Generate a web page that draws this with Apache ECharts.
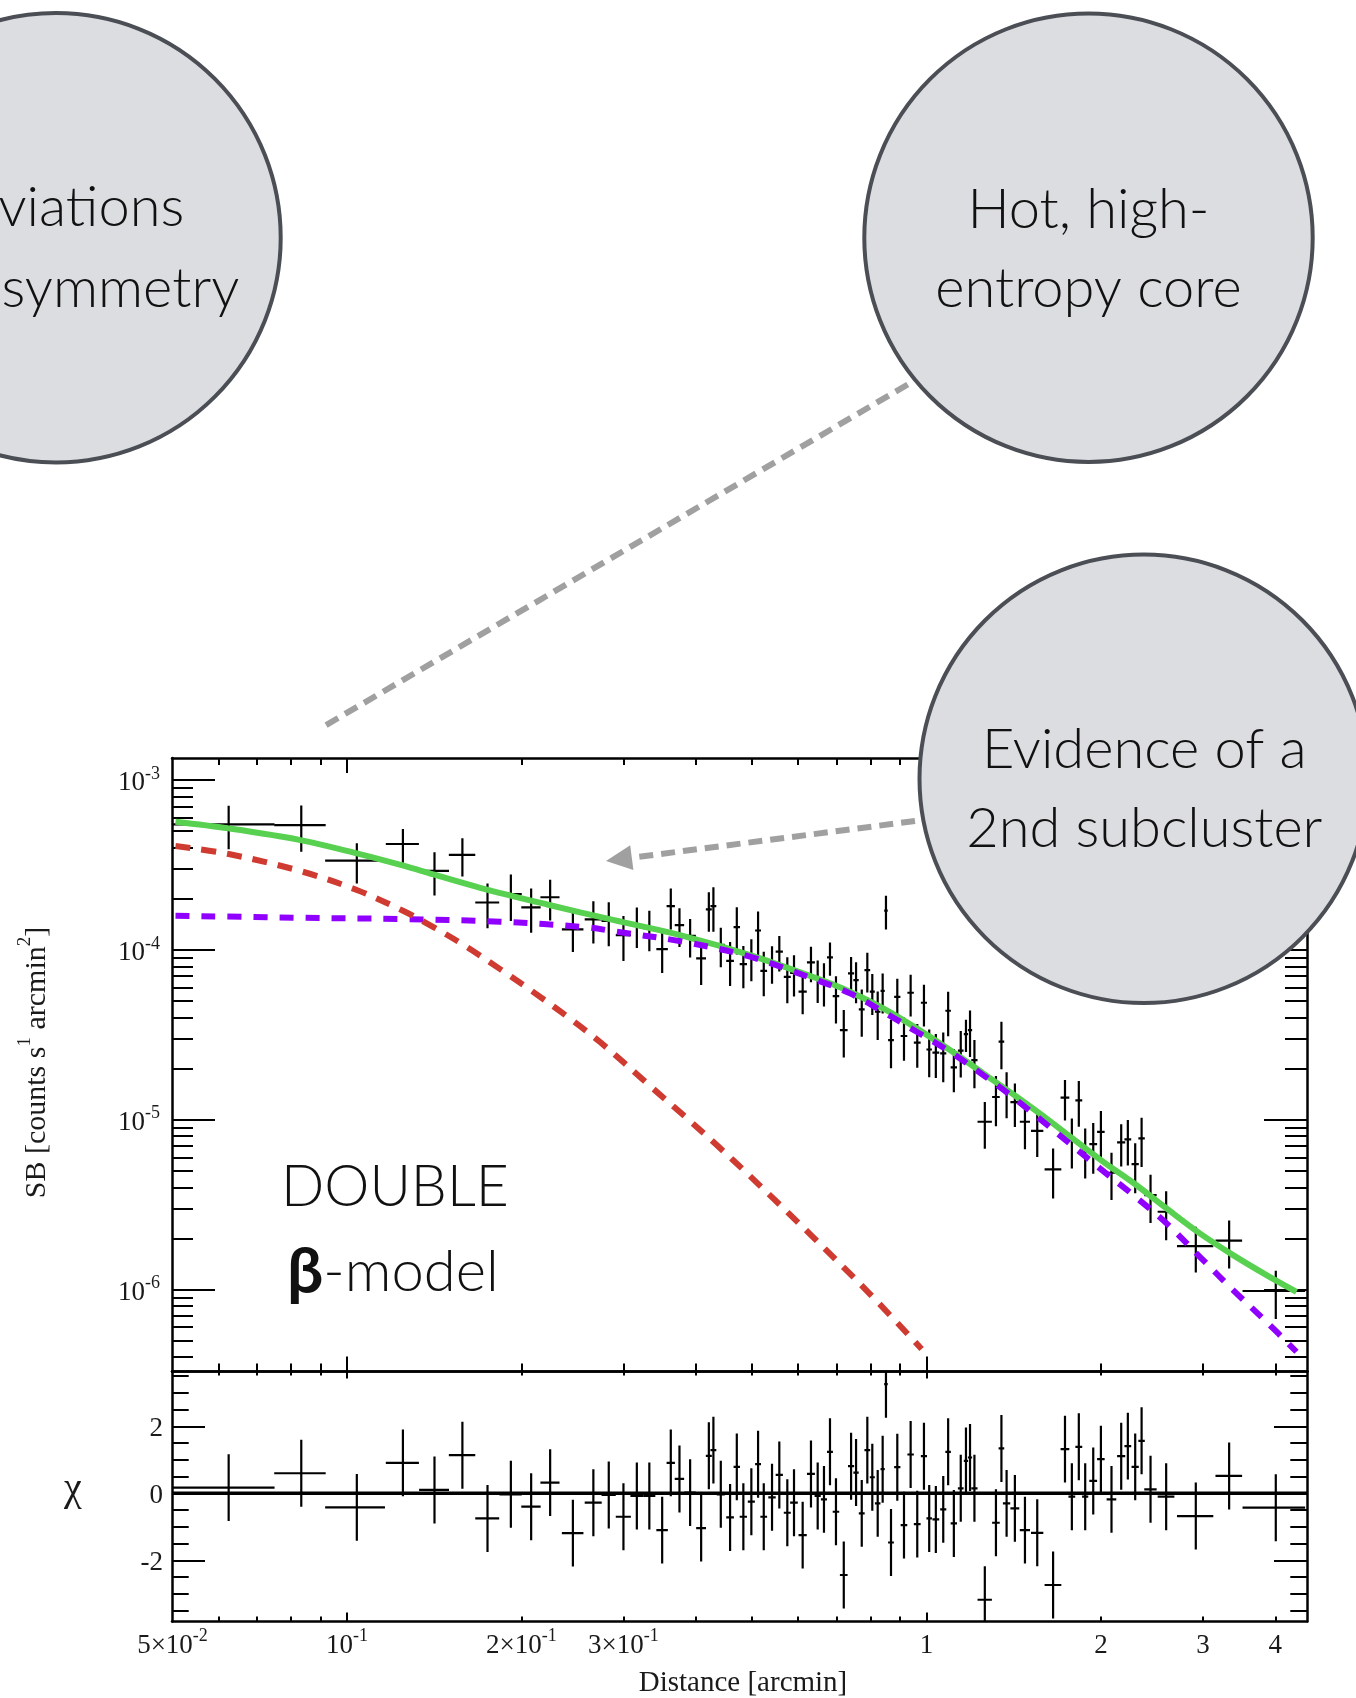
<!DOCTYPE html>
<html>
<head>
<meta charset="utf-8">
<script src="https://cdn.jsdelivr.net/npm/echarts@6/dist/echarts.min.js"></script>
<style>
  html, body { margin: 0; padding: 0; background: #ffffff; }
  #chart { width: 1356px; height: 1698px; }
</style>
</head>
<body>
<div id="chart"></div>
<script>
// ---- Surface-brightness profile: radius bin centre, half width, SB, 1-sigma error ----
const sbX = [0.0625,0.0834,0.1040,0.1249,0.1416,0.1582,0.1748,0.1918,0.2079,0.2242,
  0.2454,0.2662,0.2830,0.3000,0.3164,0.3325,0.3499,0.3621,0.3748,0.3910,
  0.4085,0.4212,0.4289,0.4417,0.4583,0.4707,0.4831,0.4987,0.5122,0.5239,
  0.5414,0.5573,0.5753,0.5908,0.6115,0.6320,0.6491,0.6655,0.6816,0.6980,
  0.7200,0.7412,0.7560,0.7733,0.7906,0.8064,0.8239,0.8403,0.8514,0.8686,
  0.8906,0.9146,0.9391,0.9641,0.9901,1.011,1.038,1.069,1.090,1.115,
  1.146,1.170,1.189,1.210,1.261,1.318,1.347,1.375,1.421,1.479,
  1.553,1.654,1.734,1.782,1.832,1.879,1.940,2.000,2.086,2.168,
  2.226,2.292,2.351,2.436,2.592,2.916,3.329,4.007];
const sbXErr = [0.0125,0.0085,0.0123,0.0082,0.0084,0.0083,0.0083,0.0085,0.0080,0.0085,
  0.0105,0.009,0.008,0.009,0.008,0.008,0.008,0.006,0.007,0.009,
  0.008,0.005,0.005,0.007,0.007,0.006,0.007,0.007,0.006,0.007,
  0.008,0.008,0.008,0.009,0.010,0.010,0.008,0.008,0.008,0.009,
  0.011,0.009,0.008,0.009,0.009,0.008,0.009,0.007,0.006,0.010,
  0.011,0.012,0.012,0.013,0.012,0.011,0.014,0.013,0.012,0.014,
  0.013,0.010,0.010,0.015,0.036,0.020,0.015,0.020,0.025,0.030,
  0.038,0.055,0.030,0.024,0.025,0.023,0.030,0.030,0.040,0.035,
  0.030,0.033,0.030,0.060,0.086,0.21,0.176,0.496];
const sbY = [5.48e-4,5.43e-4,3.35e-4,4.20e-4,2.92e-4,3.62e-4,1.90e-4,2.13e-4,1.78e-4,2.04e-4,
  1.32e-4,1.51e-4,1.48e-4,1.22e-4,1.40e-4,1.34e-4,1.01e-4,1.81e-4,1.40e-4,1.21e-4,
  8.91e-5,1.73e-4,1.81e-4,1.07e-4,8.62e-5,1.36e-4,8.25e-5,9.03e-5,1.30e-4,7.53e-5,
  8.41e-5,9.75e-5,6.94e-5,7.31e-5,5.67e-5,8.44e-5,6.76e-5,6.49e-5,9.03e-5,5.34e-5,
  3.37e-5,7.27e-5,6.64e-5,4.46e-5,7.60e-5,5.67e-5,4.32e-5,5.74e-5,1.70e-4,2.94e-5,
  5.29e-5,3.11e-5,5.59e-5,2.84e-5,4.88e-5,2.59e-5,2.48e-5,2.46e-5,4.38e-5,2.03e-5,
  2.55e-5,3.19e-5,3.37e-5,2.24e-5,9.72e-6,1.36e-5,2.88e-5,1.46e-5,1.27e-5,9.72e-6,
  8.60e-6,5.10e-6,1.35e-5,7.66e-6,1.30e-5,6.69e-6,7.18e-6,8.48e-6,4.87e-6,7.35e-6,
  7.66e-6,5.48e-6,7.76e-6,3.60e-6,2.87e-6,1.80e-6,1.94e-6,9.8e-7];
const sbYErr = [1.57e-4,1.65e-4,8.9e-5,9.4e-5,8.3e-5,9.2e-5,5.6e-5,6.5e-5,5.2e-5,5.5e-5,
  3.5e-5,4.2e-5,4.3e-5,3.6e-5,3.75e-5,3.6e-5,2.8e-5,4.9e-5,3.6e-5,3.1e-5,
  2.7e-5,4.5e-5,5.3e-5,2.8e-5,2.5e-5,4.2e-5,2.3e-5,2.5e-5,3.8e-5,2.2e-5,
  2.1e-5,2.3e-5,2.1e-5,2.0e-5,1.5e-5,2.0e-5,1.9e-5,1.85e-5,2.0e-5,1.66e-5,
  1.05e-5,1.8e-5,1.8e-5,1.38e-5,2.0e-5,1.54e-5,1.37e-5,1.52e-5,3.8e-5,9.3e-6,
  1.46e-5,8.9e-6,1.54e-5,8.2e-6,1.34e-5,8.1e-6,7.2e-6,8.0e-6,1.28e-5,5.8e-6,
  7.8e-6,6.9e-6,1.03e-5,7.1e-6,2.97e-6,4.46e-6,8.97e-6,4.41e-6,3.64e-6,3.02e-6,
  2.58e-6,1.67e-6,3.62e-6,2.50e-6,3.92e-6,2.19e-6,2.37e-6,2.77e-6,1.51e-6,2.05e-6,
  2.28e-6,1.79e-6,2.49e-6,1.14e-6,9.2e-7,5.4e-7,6.1e-7,3.1e-7];

// ---- Residuals (data - model) / sigma for the same bins ----
const chiRes = [0.17,0.60,-0.42,0.91,0.10,1.14,-0.75,-0.03,-0.40,0.32,
  -1.19,-0.28,-0.05,-0.70,-0.08,-0.08,-1.10,0.91,0.43,0.02,
  -1.04,1.12,1.29,-0.03,-0.72,0.79,-0.70,-0.25,0.87,-0.70,
  -0.12,0.55,-0.58,-0.28,-1.25,0.58,-0.08,-0.18,1.24,-0.55,
  -2.44,0.81,0.62,-0.60,1.29,0.48,-0.30,0.72,3.26,-1.47,
  0.78,-0.95,1.16,-0.92,1.11,-0.75,-0.78,-0.48,1.24,-0.90,
  0.15,0.97,1.07,0.15,-3.18,-0.88,1.34,-0.30,-0.45,-1.10,
  -1.18,-2.74,1.32,-0.10,1.39,-0.10,0.37,1.02,-0.18,1.11,
  1.41,0.79,1.57,0.12,-0.10,-0.68,0.52,-0.43];
const CHI_ERR = 1;   // residuals are in units of sigma
const CHI_REF = 0;

// ---- Double beta-model: total and the two components ----
const totalX = [0.0506,0.0625,0.0831,0.104,0.1252,0.141,0.1698,0.2216,0.2879,0.3757,0.4961,0.6467,0.7381,0.8423,0.9618,1.098,1.253,1.431,1.633,1.992,2.274,2.596,2.963,3.382,3.862,4.35];
const totalY = [5.68e-4,5.19e-4,4.43e-4,3.70e-4,3.13e-4,2.78e-4,2.32e-4,1.85e-4,1.50e-4,1.222e-4,9.32e-5,6.80e-5,5.67e-5,4.52e-5,3.45e-5,2.57e-5,1.874e-5,1.364e-5,9.81e-6,5.84e-6,4.25e-6,3.00e-6,2.14e-6,1.594e-6,1.216e-6,9.69e-7];
const core1X = [0.0506,0.0625,0.0831,0.104,0.1252,0.141,0.1611,0.1838,0.2098,0.2395,0.2734,0.3336,0.3806,0.4346,0.4961,0.6346,0.799,0.981];
const core1Y = [4.085e-4,3.666e-4,2.911e-4,2.250e-4,1.693e-4,1.362e-4,1.039e-4,7.70e-5,5.64e-5,4.07e-5,2.864e-5,1.577e-5,1.064e-5,7.09e-6,4.65e-6,2.063e-6,9.40e-7,4.46e-7];
const core2X = [0.0506,0.0831,0.1236,0.1838,0.2594,0.2921,0.3806,0.4961,0.6467,0.7381,0.8423,0.9618,1.098,1.253,1.431,1.992,2.274,2.596,2.963,3.382,3.862,4.35];
const core2Y = [1.588e-4,1.545e-4,1.518e-4,1.464e-4,1.357e-4,1.278e-4,1.116e-4,9.11e-5,6.64e-5,5.54e-5,4.32e-5,3.293e-5,2.512e-5,1.831e-5,1.304e-5,5.17e-6,3.60e-6,2.45e-6,1.558e-6,9.92e-7,6.45e-7,4.30e-7];

// ---- Axis ranges, ticks and tick labels ----
const X_MIN = 0.0499, X_MAX = 4.536;
const SB_MIN = 3.29e-7, SB_MAX = 1.348e-3;
const CHI_MIN = -3.83, CHI_MAX = 3.64;
const xMajorTicks = [0.1, 1];
const xMinorTicks = [0.06,0.07,0.08,0.09,0.2,0.3,0.4,0.5,0.6,0.7,0.8,0.9,2,3,4];
const xTickValues = [0.05,0.1,0.2,0.3,1,2,3,4];
const xTickLabels = [['5×10','-2'],['10','-1'],['2×10','-1'],['3×10','-1'],['1',''],['2',''],['3',''],['4','']];
const sbTickValues = [1e-6,1e-5,1e-4,1e-3];
const sbTickLabels = [['10','-6'],['10','-5'],['10','-4'],['10','-3']];
const sbMinorTicks = [4e-7,5e-7,6e-7,7e-7,8e-7,9e-7,
  2e-6,3e-6,4e-6,5e-6,6e-6,7e-6,8e-6,9e-6,
  2e-5,3e-5,4e-5,5e-5,6e-5,7e-5,8e-5,9e-5,
  2e-4,3e-4,4e-4,5e-4,6e-4,7e-4,8e-4,9e-4];
const chiMajorTicks = [-2, 2];
const chiMinorTicks = [-3.5,-3,-2.5,-1.5,-1,-0.5,0,0.5,1,1.5,2.5,3,3.5];
const chiTickValues = [-2, 0, 2];

const SERIF = '"Liberation Serif", "Times New Roman", serif';
const SANS = '"Lato Light", Lato, "Open Sans", sans-serif';
const INK = '#000';

const supRich = {
  m: { fontFamily: SERIF, fontSize: 27, color: '#1a1a1a', lineHeight: 30, padding: [6, 0, 0, 0] },
  e: { fontFamily: SERIF, fontSize: 18, color: '#1a1a1a', lineHeight: 18, verticalAlign: 'top' }
};
function supLabel(values, labels) {
  return function (v) {
    const i = values.findIndex(t => Math.abs(t - v) <= Math.abs(t) * 1e-6 + 1e-12);
    if (i < 0) return '';
    const [base, exp] = labels[i];
    return '{m|' + base + '}' + (exp ? '{e|' + exp + '}' : '');
  };
}

// one axis = one set of ticks; the frame line is drawn by the major axis of each side
function makeAxis(opt) {
  const a = {
    type: opt.type,
    gridIndex: opt.grid,
    position: opt.position,
    min: opt.min, max: opt.max,
    axisLine: { show: !!opt.line, onZero: false, lineStyle: { color: INK, width: 2.5 } },
    axisTick: { show: true, inside: true, length: opt.len, customValues: opt.ticks,
                lineStyle: { color: INK, width: 2 } },
    axisLabel: { show: false },
    splitLine: { show: false },
    minorTick: { show: false },
    minorSplitLine: { show: false }
  };
  if (opt.type === 'log') a.logBase = 10;
  if (opt.labels) {
    a.axisLabel = { show: true, customValues: opt.labelValues, margin: opt.margin,
                    formatter: opt.labels, rich: supRich };
  }
  return a;
}

const xAxes = [
  // upper panel
  makeAxis({ type: 'log', grid: 0, position: 'bottom', min: X_MIN, max: X_MAX, ticks: xMajorTicks, len: 15, line: true }),
  makeAxis({ type: 'log', grid: 0, position: 'bottom', min: X_MIN, max: X_MAX, ticks: xMinorTicks, len: 8 }),
  makeAxis({ type: 'log', grid: 0, position: 'top', min: X_MIN, max: X_MAX, ticks: xMajorTicks, len: 15, line: true }),
  makeAxis({ type: 'log', grid: 0, position: 'top', min: X_MIN, max: X_MAX, ticks: xMinorTicks, len: 7 }),
  // residual panel
  makeAxis({ type: 'log', grid: 1, position: 'bottom', min: X_MIN, max: X_MAX, ticks: xMajorTicks, len: 9, line: true,
             labels: supLabel(xTickValues, xTickLabels), labelValues: xTickValues, margin: 6 }),
  makeAxis({ type: 'log', grid: 1, position: 'bottom', min: X_MIN, max: X_MAX, ticks: xMinorTicks, len: 5 }),
  makeAxis({ type: 'log', grid: 1, position: 'top', min: X_MIN, max: X_MAX, ticks: xMajorTicks, len: 7, line: true }),
  makeAxis({ type: 'log', grid: 1, position: 'top', min: X_MIN, max: X_MAX, ticks: xMinorTicks, len: 4 })
];
const yAxes = [
  makeAxis({ type: 'log', grid: 0, position: 'left', min: SB_MIN, max: SB_MAX, ticks: sbTickValues, len: 43, line: true,
             labels: supLabel(sbTickValues, sbTickLabels), labelValues: sbTickValues, margin: 12 }),
  makeAxis({ type: 'log', grid: 0, position: 'left', min: SB_MIN, max: SB_MAX, ticks: sbMinorTicks, len: 21 }),
  makeAxis({ type: 'log', grid: 0, position: 'right', min: SB_MIN, max: SB_MAX, ticks: sbTickValues, len: 43, line: true }),
  makeAxis({ type: 'log', grid: 0, position: 'right', min: SB_MIN, max: SB_MAX, ticks: sbMinorTicks, len: 22 }),
  makeAxis({ type: 'value', grid: 1, position: 'left', min: CHI_MIN, max: CHI_MAX, ticks: chiMajorTicks, len: 33, line: true,
             labels: supLabel(chiTickValues, chiTickValues.map(v => [String(v), ''])), labelValues: chiTickValues, margin: 9 }),
  makeAxis({ type: 'value', grid: 1, position: 'left', min: CHI_MIN, max: CHI_MAX, ticks: chiMinorTicks, len: 16.7 }),
  makeAxis({ type: 'value', grid: 1, position: 'right', min: CHI_MIN, max: CHI_MAX, ticks: chiMajorTicks, len: 33, line: true }),
  makeAxis({ type: 'value', grid: 1, position: 'right', min: CHI_MIN, max: CHI_MAX, ticks: chiMinorTicks, len: 16.7 })
];

// error-bar cross: [x, xerr, y, yerr]
function renderCross(params, api) {
  const x = api.value(0), xe = api.value(1), y = api.value(2), ye = api.value(3);
  const l = api.coord([x - xe, y]), r = api.coord([x + xe, y]);
  const t = api.coord([x, y + ye]), b = api.coord([x, y - ye]);
  const style = { stroke: INK, lineWidth: 2.2 };
  return {
    type: 'group',
    children: [
      { type: 'line', shape: { x1: l[0], y1: l[1], x2: r[0], y2: r[1] }, style: style },
      { type: 'line', shape: { x1: t[0], y1: t[1], x2: b[0], y2: b[1] }, style: style }
    ]
  };
}

const sbData = sbX.map((x, i) => [x, sbXErr[i], sbY[i], sbYErr[i]]);
const chiData = sbX.map((x, i) => [x, sbXErr[i], chiRes[i], CHI_ERR]);
const pairs = (xs, ys) => xs.map((x, i) => [x, ys[i]]);

// ---- Annotation bubbles and call-outs ----
const bubbleFill = '#dcdde0', bubbleEdge = '#4b4f55';
function bubble(cx, cy, r) {
  return { type: 'circle', z: 100, shape: { cx: cx, cy: cy, r: r },
           style: { fill: bubbleFill, stroke: bubbleEdge, lineWidth: 4 } };
}
function bubbleText(x, y, text) {
  return { type: 'text', z: 101, x: x, y: y,
           style: { text: text, fill: '#111', font: '300 56px ' + SANS, align: 'center', verticalAlign: 'middle' } };
}
const calloutStyle = { stroke: '#a0a0a0', lineWidth: 6, lineDash: [14, 8] };

const graphics = [
  { type: 'line', z: 90, shape: { x1: 907.7, y1: 384.5, x2: 325, y2: 725.7 }, style: calloutStyle },
  { type: 'line', z: 90, shape: { x1: 915, y1: 821, x2: 632, y2: 857.7 }, style: calloutStyle },
  { type: 'polygon', z: 90, shape: { points: [[606, 861], [633.4, 870.1], [630.2, 845.3]] }, style: { fill: '#a0a0a0' } },

  bubble(56, 237.7, 224.7),
  bubbleText(56, 208, 'Deviations'),
  bubbleText(56, 289, 'from symmetry'),

  bubble(1088.5, 237.7, 224.2),
  bubbleText(1088.5, 210, 'Hot, high-'),
  bubbleText(1088.5, 289, 'entropy core'),

  bubble(1143.7, 778.8, 224.2),
  bubbleText(1144.3, 749.5, 'Evidence of a'),
  bubbleText(1144.3, 828.5, '2nd subcluster'),

  { type: 'text', z: 60, x: 281, y: 1188,
    style: { text: 'DOUBLE', fill: '#111', font: '300 57px ' + SANS, align: 'left', verticalAlign: 'middle' } },
  { type: 'text', z: 60, x: 287, y: 1272,
    style: { text: '{b|β}{n|-model}', align: 'left', verticalAlign: 'middle',
             rich: { b: { fontFamily: 'Lato, sans-serif', fontWeight: 'bold', fontSize: 64, fill: '#111', lineHeight: 66 },
                     n: { fontFamily: SANS, fontWeight: 300, fontSize: 58, fill: '#111', lineHeight: 66 } } } },

  // axis titles
  { type: 'text', z: 60, x: 743, y: 1683,
    style: { text: 'Distance [arcmin]', fill: '#1a1a1a', font: '29px ' + SERIF, align: 'center', verticalAlign: 'middle' } },
  { type: 'text', z: 60, x: 34, y: 1062.5, rotation: Math.PI / 2,
    style: { text: '{n|SB [counts s}{s|1}{n| arcmin}{s|2}{n|]}', align: 'center', verticalAlign: 'middle',
             rich: { n: { fontFamily: SERIF, fontSize: 30, fill: '#1a1a1a', lineHeight: 36, padding: [6, 0, 0, 0] },
                     s: { fontFamily: SERIF, fontSize: 19, fill: '#1a1a1a', lineHeight: 20, verticalAlign: 'top' } } } },
  { type: 'text', z: 60, x: 73, y: 1489,
    style: { text: 'χ', fill: '#1a1a1a', font: '40px ' + SERIF, align: 'center', verticalAlign: 'middle' } }
];

const chart = echarts.init(document.getElementById('chart'), null, { renderer: 'canvas' });
chart.setOption({
  backgroundColor: '#ffffff',
  animation: false,
  grid: [
    { left: 172, top: 758, width: 1135, height: 613.5, containLabel: false },
    { left: 172, top: 1371.5, width: 1135, height: 250, containLabel: false }
  ],
  xAxis: xAxes,
  yAxis: yAxes,
  series: [
    { name: 'SB', type: 'custom', xAxisIndex: 0, yAxisIndex: 0, z: 2, silent: true, clip: true,
      renderItem: renderCross, encode: { x: 0, y: 2 }, data: sbData },
    { name: 'total', type: 'line', xAxisIndex: 0, yAxisIndex: 0, z: 3, silent: true,
      data: pairs(totalX, totalY), showSymbol: false, smooth: 0.35,
      lineStyle: { color: '#58d150', width: 6 } },
    { name: 'core 2', type: 'line', xAxisIndex: 0, yAxisIndex: 0, z: 4, silent: true,
      data: pairs(core2X, core2Y), showSymbol: false, smooth: 0.35,
      lineStyle: { color: '#9000ff', width: 6, type: [14, 12], cap: 'butt' } },
    { name: 'core 1', type: 'line', xAxisIndex: 0, yAxisIndex: 0, z: 5, silent: true,
      data: pairs(core1X, core1Y), showSymbol: false, smooth: 0.35,
      lineStyle: { color: '#cf3b30', width: 6, type: [15, 11], cap: 'butt' } },
    { name: 'chi', type: 'custom', xAxisIndex: 4, yAxisIndex: 4, z: 2, silent: true, clip: true,
      renderItem: renderCross, encode: { x: 0, y: 2 }, data: chiData },
    { name: 'zero', type: 'line', xAxisIndex: 4, yAxisIndex: 4, z: 3, silent: true,
      data: [[X_MIN, CHI_REF], [X_MAX, CHI_REF]], showSymbol: false,
      lineStyle: { color: INK, width: 3.5 } }
  ],
  graphic: graphics
});
</script>
</body>
</html>
